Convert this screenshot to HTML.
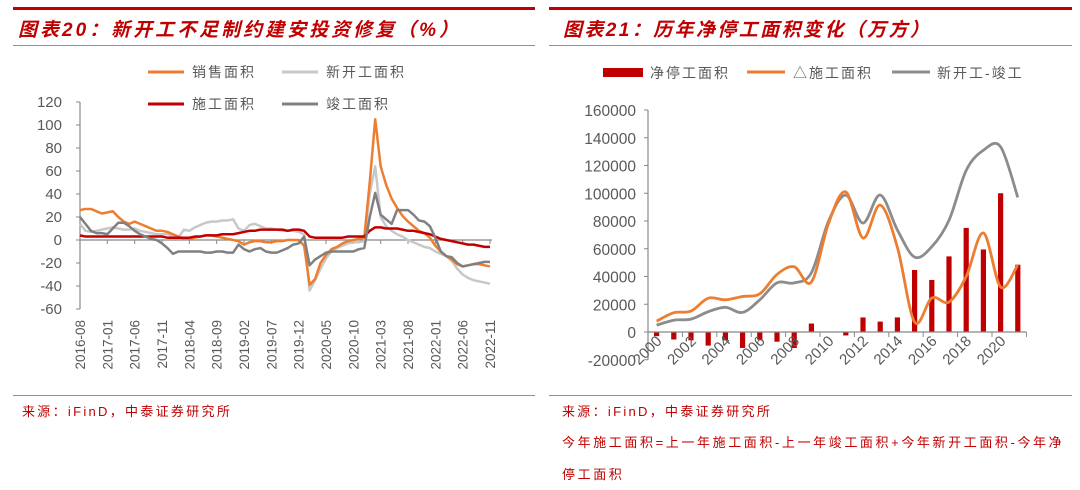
<!DOCTYPE html>
<html><head><meta charset="utf-8">
<style>
body{margin:0;background:#fff;width:1080px;height:490px;overflow:hidden;font-family:"Liberation Sans","Noto Sans CJK SC",sans-serif;}
svg{position:absolute;left:0;top:0}
.cn{font-family:"Liberation Sans","Noto Sans CJK SC",sans-serif}
</style></head><body>
<svg id="svg" width="1080" height="490">
<g>
<rect x="13" y="7" width="522" height="3" fill="#c00000"/>
<text x="18" y="36" font-size="19" font-weight="bold" font-style="italic" fill="#c00000" class="cn" letter-spacing="3">图表20：新开工不足制约建安投资修复（%）</text>
<rect x="13" y="45" width="522" height="1" fill="#e07070"/>
<rect x="13" y="395" width="522" height="1" fill="#e07070"/>
<text x="22" y="416" font-size="13" fill="#c00000" class="cn" letter-spacing="2.3">来源：iFinD，中泰证券研究所</text>
</g>
<g>
<rect x="549" y="7" width="523" height="3" fill="#c00000"/>
<text x="563" y="36" font-size="19" font-weight="bold" font-style="italic" fill="#c00000" class="cn" letter-spacing="2.4">图表21：历年净停工面积变化（万方）</text>
<rect x="549" y="45" width="523" height="1" fill="#e07070"/>
<rect x="549" y="395" width="523" height="1" fill="#e07070"/>
<text x="562" y="416" font-size="13" fill="#c00000" class="cn" letter-spacing="2.3">来源：iFinD，中泰证券研究所</text>
<text x="562" y="447" font-size="13" fill="#c00000" class="cn" letter-spacing="2.6">今年施工面积=上一年施工面积-上一年竣工面积+今年新开工面积-今年净</text>
<text x="562" y="479" font-size="13" fill="#c00000" class="cn" letter-spacing="2.6">停工面积</text>
</g>
<g id="left"></g>
<g id="right"></g>
</svg>
<script>
// ---- Left chart data (monthly, 2016-08 .. 2022-11) ----
const salesArea = [26,27,27,25,23, 24,25,20,16,14,16,14,12,10,8,8,7, 5,3,1,1,2,3,4,4,3,2,1,0, -1,-4,-2,-1,-1,-2,-2,-1,-1,0,0,0, -5,-39,-34,-20,-13,-8,-6,-3,-1,0,1,2, 50,105,64,48,36,28,21,16,12,8,6,2, -5,-10,-14,-17,-21,-23,-22,-21,-21,-22,-23];
const newStartArea = [14,8,7,8,9, 10,11,10,9,9,10,8,7,6,5,5,5, 3,2,9,8,11,13,15,16,16,17,17,18, 10,8,13,14,12,10,10,9,8,8,8,7, 5,-44,-35,-25,-16,-10,-7,-5,-3,-2,-2,-1, 40,64,20,12,8,5,3,0,-2,-4,-6,-7, -10,-12,-14,-18,-25,-30,-33,-35,-36,-37,-38];
const constructionArea = [4,3,3,3,3, 3,3,3,3,3,3,3,3,3,3,3,2, 2,2,2,2,3,3,4,4,4,5,5,5, 6,7,8,8,9,9,9,9,9,8,9,9, 8,3,2,2,2,2,2,2,3,3,3,3, 8,11,11,10,10,10,9,8,8,7,6,5, 3,1,0,-1,-2,-3,-4,-4,-5,-6,-6];
const completionArea = [20,14,8,6,6, 5,10,15,15,12,8,5,3,1,0,-3,-7, -12,-10,-10,-10,-10,-10,-11,-11,-10,-10,-11,-11, -4,-8,-10,-8,-7,-10,-11,-11,-9,-7,-4,-3, 3,-22,-17,-14,-11,-10,-10,-10,-10,-10,-8,-7, 20,41,22,18,14,26,26,26,22,17,16,12, 2,-10,-14,-15,-20,-23,-22,-21,-20,-19,-19];
const leftYTicks = [120,100,80,60,40,20,0,-20,-40,-60];
const leftXLabels = ["2016-08","2017-01","2017-06","2017-11","2018-04","2018-09","2019-02","2019-07","2019-12","2020-05","2020-10","2021-03","2021-08","2022-01","2022-06","2022-11"];

// ---- Right chart data (2000..2021) ----
const years = ["2000","2001","2002","2003","2004","2005","2006","2007","2008","2009","2010","2011","2012","2013","2014","2015","2016","2017","2018","2019","2020","2021"];
const netStoppage = [-3000,-5400,-6000,-9800,-6000,-11500,-5500,-7000,-11500,6100,0,-2500,10500,7500,10500,44700,37500,54500,75000,59500,100000,48500];
const deltaConstruction = [7800,13900,15100,24400,23200,25600,27500,41500,47000,36000,78500,101000,67700,91500,61000,7200,24500,21600,40000,71400,32400,48300];
const startMinusComplete = [4900,8500,9300,14600,17800,14100,23200,35400,35400,42700,80000,98700,78500,98700,73500,54000,61500,80500,116500,131000,133500,97000];
const rightYTicks = [160000,140000,120000,100000,80000,60000,40000,20000,0,-20000];

const NS="http://www.w3.org/2000/svg";
function mk(parent,tag,attrs){const e=document.createElementNS(NS,tag);for(const k in attrs)e.setAttribute(k,attrs[k]);parent.appendChild(e);return e;}
function smoothPath(pts){let d=`M${pts[0][0]},${pts[0][1]}`;for(let i=0;i<pts.length-1;i++){const p0=pts[i-1]||pts[i],p1=pts[i],p2=pts[i+1],p3=pts[i+2]||p2;const t=0.5/3;d+=` C${p1[0]+(p2[0]-p0[0])*t},${p1[1]+(p2[1]-p0[1])*t} ${p2[0]-(p3[0]-p1[0])*t},${p2[1]-(p3[1]-p1[1])*t} ${p2[0]},${p2[1]}`;}return d;}

// ---- Left chart ----
(function(){
const g=document.getElementById('left');
const x0=80,x1=490,n=salesArea.length;
const X=i=>x0+(x1-x0)*i/(n-1);
const Y=v=>240-v*1.15;
for(const t of leftYTicks){const e=mk(g,'text',{x:62,y:Y(t)+5,'font-size':15,'text-anchor':'end',fill:'#595959'});e.textContent=t;


const tk=mk(g,'line',{x1:76,x2:80,y1:Y(t),y2:Y(t),stroke:'#888'});

}
const ya=mk(g,'line',{x1:80,x2:80,y1:Y(120),y2:Y(-60),stroke:'#888','stroke-width':1.2});


const xa=mk(g,'line',{x1:80,x2:492,y1:Y(0),y2:Y(0),stroke:'#888','stroke-width':1.2});


leftXLabels.forEach((lab,k)=>{const i=k*5;const x=X(i);
const tk=mk(g,'line',{x1:x,x2:x,y1:Y(0),y2:Y(0)+4,stroke:'#888'});


const e=mk(g,'text',{x:0,y:0,'font-size':13.5,'text-anchor':'end',fill:'#595959',transform:`translate(${x+5},320) rotate(-90)`});e.textContent=lab;

});
const series=[[newStartArea,'#c8c8c8','new-start-line'],[salesArea,'#ed7d31','sales-line'],[constructionArea,'#c00000','construction-line'],[completionArea,'#808080','completion-line']];
for(const [arr,c,nm] of series){const p=mk(g,'polyline',{points:arr.map((v,i)=>X(i)+','+Y(v)).join(' '),fill:'none',stroke:c,'stroke-width':2.5,'stroke-linejoin':'round'});

}
const leg=[['销售面积','#ed7d31',148,72],['新开工面积','#c8c8c8',282,72],['施工面积','#c00000',148,104],['竣工面积','#808080',282,104]];
for(const [t,c,x,y] of leg){const l=mk(g,'line',{x1:x,x2:x+36,y1:y,y2:y,stroke:c,'stroke-width':3});


const e=mk(g,'text',{x:x+44,y:y+5,'font-size':14,fill:'#595959',class:'cn','letter-spacing':2});e.textContent=t;

}
})();

// ---- Right chart ----
(function(){
const g=document.getElementById('right');
const x0=648,cw=17.2,n=years.length;
const X=i=>x0+cw*(i+0.5);
const Y=v=>332-v/20000*27.75;
for(const t of rightYTicks){const e=mk(g,'text',{x:636,y:Y(t)+6,'font-size':15.5,'text-anchor':'end',fill:'#595959'});e.textContent=t;


const tk=mk(g,'line',{x1:644,x2:648,y1:Y(t),y2:Y(t),stroke:'#888'});

}
const ya=mk(g,'line',{x1:648,x2:648,y1:Y(160000),y2:Y(-20000),stroke:'#888','stroke-width':1.2});


years.forEach((yr,i)=>{const v=netStoppage[i];const r=mk(g,'rect',{x:X(i)-2.6,y:Math.min(Y(v),Y(0)),width:5.2,height:Math.abs(Y(v)-Y(0)),fill:'#c00000'});

});
const xa=mk(g,'line',{x1:648,x2:x0+cw*n,y1:Y(0),y2:Y(0),stroke:'#888','stroke-width':1.2});


for(let i=0;i<=n;i+=2){const tk=mk(g,'line',{x1:x0+cw*i,x2:x0+cw*i,y1:Y(0),y2:Y(0)+5,stroke:'#888'});

}
years.forEach((yr,i)=>{if(i%2)return;const e=mk(g,'text',{x:0,y:0,'font-size':15,'text-anchor':'end',fill:'#595959',transform:`translate(${X(i)+6},${Y(0)+10}) rotate(-45)`});e.textContent=yr;

});
const lines=[[startMinusComplete,'#8c8c8c','start-minus-complete-line'],[deltaConstruction,'#ed7d31','delta-construction-line']];
for(const [arr,c,nm] of lines){const p=mk(g,'path',{d:smoothPath(arr.map((v,i)=>[X(i),Y(v)])),fill:'none',stroke:c,'stroke-width':2.8});

}
const r=mk(g,'rect',{x:603,y:68,width:40,height:9,fill:'#c00000'});


const leg=[['净停工面积',650,null],['△施工面积',793,['#ed7d31',747]],['新开工-竣工',937,['#8c8c8c',892]]];
for(const [t,x,ln] of leg){if(ln){const l=mk(g,'line',{x1:ln[1],x2:ln[1]+38,y1:72,y2:72,stroke:ln[0],'stroke-width':3});

}
const e=mk(g,'text',{x:x,y:78,'font-size':14,fill:'#595959',class:'cn','letter-spacing':2});e.textContent=t;

}
})();
</script>
</body></html>
